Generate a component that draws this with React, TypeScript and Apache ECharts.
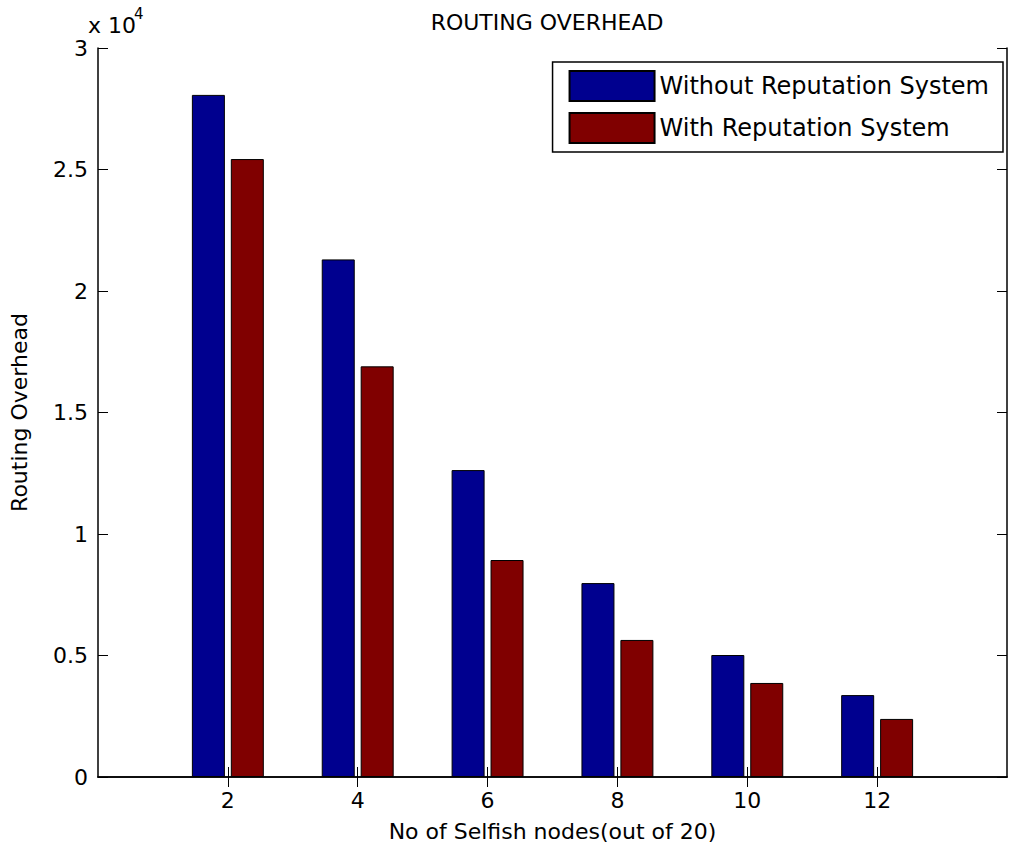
import * as echarts from 'echarts';
import { useEffect, useRef } from 'react';

// categories 0..14, only 2..12 carry bars
const categories = ['0', '2', '4', '6', '8', '10', '12', '14'];
const withoutRep = [null, 28070, 21300, 12630, 7980, 5020, 3370, null];
const withRep = [null, 25430, 16900, 8930, 5640, 3870, 2390, null];

const font = '"DejaVu Sans", sans-serif';

const App = () => {
    const divRef = useRef<HTMLDivElement>(null);

    useEffect(() => {
        const chart = echarts.init(divRef.current!, null, { renderer: 'svg' });
        const axisLine = { show: true, lineStyle: { color: '#000', width: 1.5 } };
        const tickIdx = (i: number) => i > 0 && i < 7;
        chart.setOption({
            animation: false,
            backgroundColor: '#fff',
            textStyle: { fontFamily: font },
            title: {
                text: 'ROUTING OVERHEAD', left: 542, top: 6, textAlign: 'center',
                textStyle: { fontSize: 22, fontWeight: 'normal', color: '#000', fontFamily: font }
            },
            graphic: [
                { type: 'text', left: 88, top: 14, style: { text: 'x 10', fontSize: 22, fill: '#000', fontFamily: font } },
                { type: 'text', left: 134, top: 6, style: { text: '4', fontSize: 15, fill: '#000', fontFamily: font } }
            ],
            legend: {
                right: 17, top: 62, orient: 'vertical', icon: 'rect',
                itemWidth: 85, itemHeight: 30, itemGap: 10,
                padding: [8, 14, 8, 16],
                borderColor: '#000', borderWidth: 1.5, backgroundColor: '#fff',
                textStyle: { fontSize: 24, color: '#000', fontFamily: font },
                data: ['Without Reputation System', 'With Reputation System']
            },
            grid: { left: 87, right: 13, top: 48, bottom: 76, containLabel: false },
            xAxis: [{
                type: 'category', data: categories, boundaryGap: false,
                axisLine, axisTick: { inside: true, length: 10, lineStyle: { color: '#000' }, interval: tickIdx },
                axisLabel: { fontSize: 22, color: '#000', margin: 12, interval: tickIdx },
                name: 'No of Selfish nodes(out of 20)', nameLocation: 'middle', nameGap: 43,
                nameTextStyle: { fontSize: 22, color: '#000' }
            }, {
                type: 'category', data: categories, boundaryGap: false, position: 'top',
                axisLine, axisTick: { inside: true, length: 10, lineStyle: { color: '#000' }, interval: tickIdx },
                axisLabel: { show: false }
            }],
            yAxis: [{
                type: 'value', min: 0, max: 30000, interval: 5000,
                axisLine, splitLine: { show: false },
                axisTick: { show: true, inside: true, length: 10, lineStyle: { color: '#000' } },
                axisLabel: { fontSize: 22, color: '#000', margin: 10, formatter: (v: number) => String(v / 10000) },
                name: 'Routing Overhead', nameLocation: 'middle', nameGap: 68,
                nameTextStyle: { fontSize: 22, color: '#000' }
            }, {
                type: 'value', min: 0, max: 30000, interval: 5000, position: 'right',
                axisLine, splitLine: { show: false },
                axisTick: { show: true, inside: true, length: 10, lineStyle: { color: '#000' } },
                axisLabel: { show: false }
            }],
            series: [
                {
                    name: 'Without Reputation System', type: 'bar', data: withoutRep,
                    barWidth: 33, barGap: '18%',
                    itemStyle: { color: '#00008F', borderColor: '#000', borderWidth: 1 }
                },
                {
                    name: 'With Reputation System', type: 'bar', data: withRep,
                    barWidth: 33,
                    itemStyle: { color: '#800000', borderColor: '#000', borderWidth: 1 }
                }
            ]
        });
        return () => chart.dispose();
    }, []);

    return <div ref={divRef} style={{ position: 'absolute', left: 0, top: 0, width: '1020px', height: '853px' }} />;
};

export default App;
